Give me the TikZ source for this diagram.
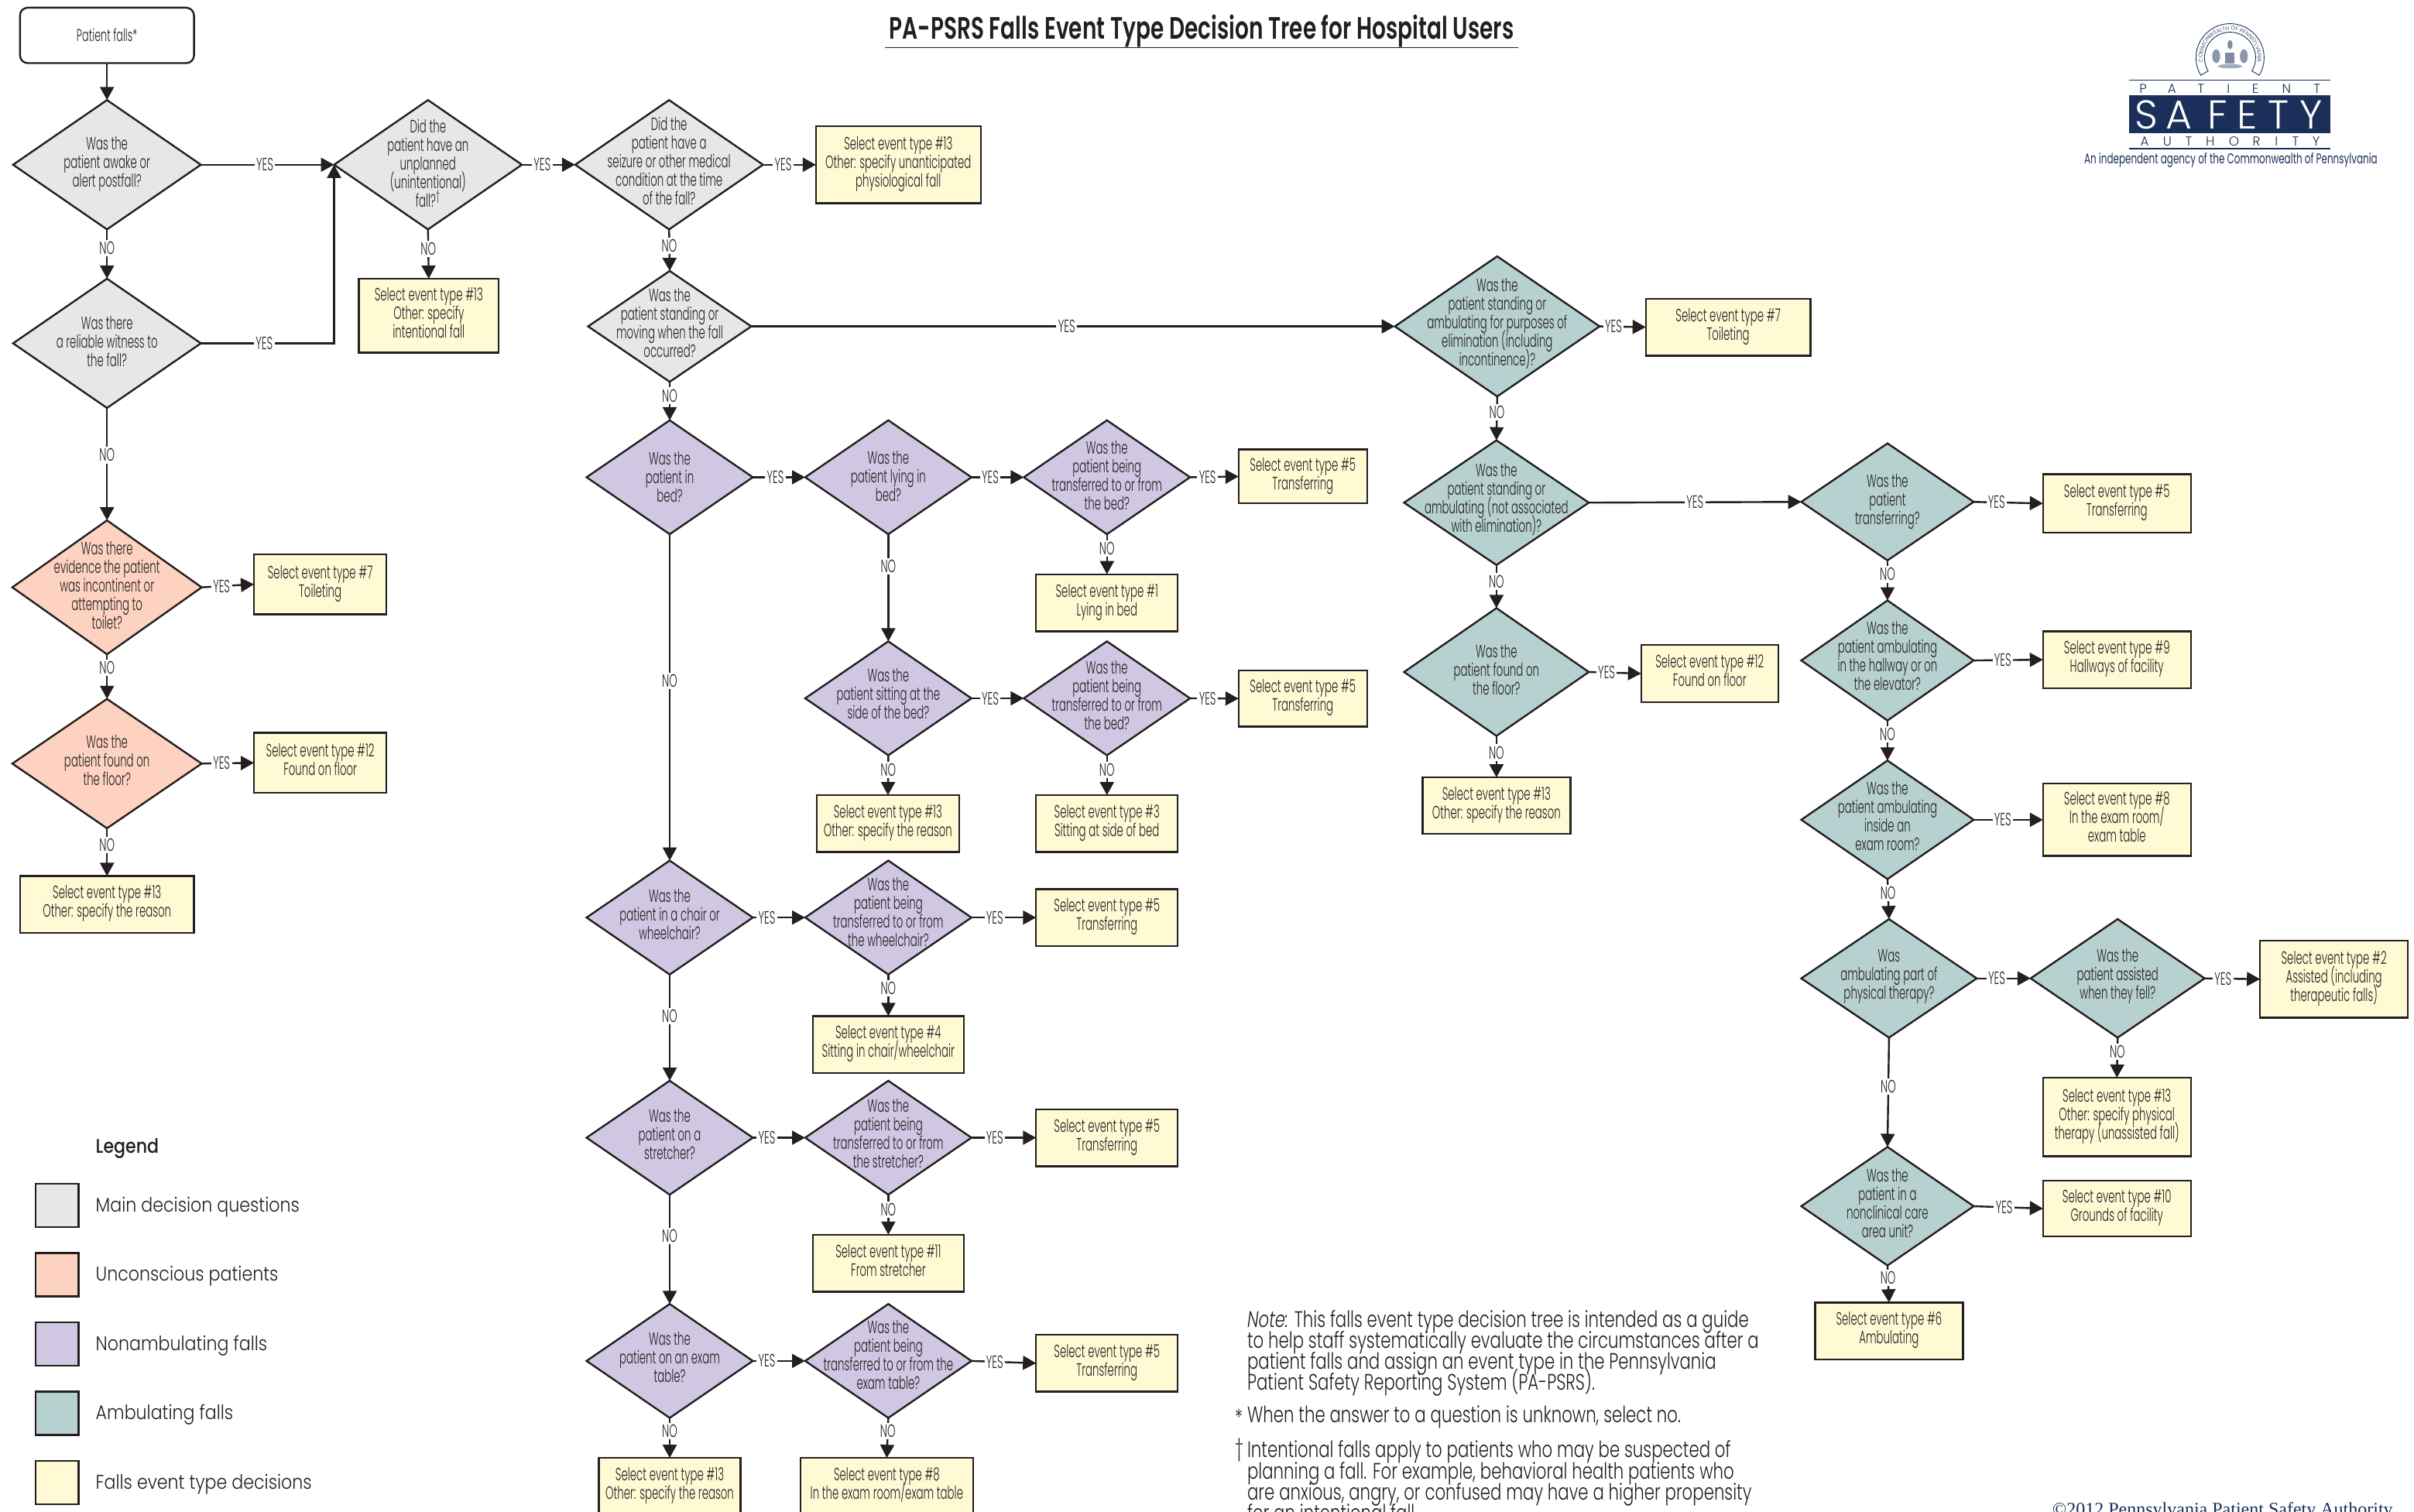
\documentclass[tikz,border=0pt]{standalone}
\usepackage{fontspec}
\usetikzlibrary{shapes.geometric,arrows.meta,decorations.text}
\setmainfont{Poppins}[UprightFont=* Light,BoldFont=* SemiBold,ItalicFont=* Light Italic,FakeStretch=.58]
\newfontfamily\legfont{Poppins}[UprightFont=* Light,BoldFont=* Medium,FakeStretch=.865]
\newfontfamily\notefont{Poppins}[UprightFont=* Light,ItalicFont=* Light Italic,FakeStretch=.734]
\newfontfamily\titlefont{Poppins}[UprightFont=* SemiBold,FakeStretch=.7]
\newfontfamily\tagfont{Poppins}[UprightFont=*,FakeStretch=.65]
\newfontfamily\logofont{Poppins}[UprightFont=* Light]
\newfontfamily\seriffont{Liberation Serif}
\definecolor{ink}{HTML}{231F20}
\definecolor{cgray}{HTML}{E6E7E8}
\definecolor{cpeach}{HTML}{FDD2C0}
\definecolor{clilac}{HTML}{D0C8E2}
\definecolor{cteal}{HTML}{B7D1D1}
\definecolor{cyell}{HTML}{FFFAD4}
\definecolor{navy}{HTML}{1A2F5A}
\def\un{0.99426pt}
\lineskiplimit=-30pt
\newcommand{\zbox}[2][0]{\makebox[0pt][c]{\raisebox{\dimexpr-3.9pt-#1pt\relax}{\smash{\parbox[c]{200pt}{\centering\lineskiplimit=-30pt\relax\baselineskip=12pt\relax\strut #2\strut}}}}}
\newcommand{\dia}[7][0]{\diaB{#1}{#2}{#3}{#4}{#5}{#6}{#7}}
\newcommand{\diaB}[8]{\node[dbase,fill=#3,minimum width=2*#6*\un,minimum height=2*#7*\un] (#2) at (#4,#5) {\zbox[#1]{#8}};}
\newcommand{\bx}[6]{\node[bbase,minimum width=(#4-#2)*\un,minimum height=(#5-#3)*\un] (#1) at ({(#2+#4)/2},{(#3+#5)/2}) {\zbox[1.8]{#6}};}
\tikzset{
 dbase/.style={diamond,draw=ink,line width=1.2pt,inner sep=0pt,outer sep=0pt,aspect=1.4},
 bbase/.style={rectangle,draw=ink,fill=cyell,line width=1.2pt,inner sep=0pt,outer sep=0pt,align=center},
 flow/.style={draw=ink,line width=1.2pt,-{Triangle[length=8.5pt,width=9pt]},color=ink},
 lab/.style={fill=white,inner sep=1.2pt,font=\fontsize{11.5}{12}\selectfont,text=ink},
 swatch/.style={rectangle,draw=ink,line width=1.2pt,minimum width=28*\un,minimum height=28*\un,inner sep=0pt,outer sep=0pt},
 legtxt/.style={anchor=west,inner sep=0pt,font=\legfont\fontsize{12.8}{15}\selectfont,text=ink},
 notetxt/.style={anchor=west,inner sep=0pt,align=left,font=\notefont\fontsize{14.5}{13.65}\selectfont,text=ink},
 lett/.style={inner sep=0pt,font=\logofont\fontsize{8.4}{10}\selectfont,text=navy},
 lettw/.style={inner sep=0pt,font=\logofont\fontsize{26}{28}\selectfont,text=white},
}
\begin{document}
\begin{tikzpicture}[x=\un,y=-\un,every node/.append style={text=ink},font=\fontsize{11.5}{12}\selectfont]
\useasboundingbox (0,0) rectangle (1568,982);
% title
\node[inner sep=0pt,font=\titlefont\fontsize{20}{22}\selectfont] (title) at (780.5,20) {PA-PSRS Falls Event Type Decision Tree for Hospital Users};
\coordinate (ula) at (575,31); \coordinate (ulb) at (986,31);
\draw[ink,line width=.6pt] (ula) -- (ulb);
% start
\node[rectangle,rounded corners=5pt,draw=ink,line width=1.2pt,inner sep=0pt,outer sep=0pt,minimum width=113*\un,minimum height=36*\un] (start) at (69.5,23) {\fontsize{11}{12}\selectfont Patient falls*};
% main column diamonds
\dia[2]{d1}{cgray}{69.5}{107}{61}{42}{Was the\\patient awake or\\alert postfall?}
\dia[3]{d2}{cgray}{69.5}{223}{61}{42}{Was there\\a reliable witness to\\the fall?}
\dia[3.5]{d3}{cgray}{278}{107}{61}{42}{Did the\\patient have an\\unplanned\\(unintentional)\\fall?\textsuperscript{†}}
\dia[1]{d4}{cgray}{434.6}{107}{61}{42}{Did the\\patient have a\\seizure or other medical\\condition at the time\\of the fall?}
\dia[1.5]{d5}{cgray}{435}{212}{53}{36}{Was the\\patient standing or\\moving when the fall\\occurred?}
\dia[3.5]{d17}{cpeach}{69.5}{381.5}{61.5}{43.5}{Was there\\evidence the patient\\was incontinent or\\attempting to\\toilet?}
\dia[1.5]{d18}{cpeach}{69.5}{496}{61.5}{42}{Was the\\patient found on\\the floor?}
% nonambulating
\dia[5]{d6}{clilac}{435}{310}{54}{37}{Was the\\patient in\\bed?}
\dia[4]{d7}{clilac}{577}{310}{54}{37}{Was the\\patient lying in\\bed?}
\dia[3]{d8}{clilac}{719}{310}{54}{37}{Was the\\patient being\\transferred to or from\\the bed?}
\dia{d9}{clilac}{577}{453.6}{54}{37}{Was the\\patient sitting at the\\side of the bed?}
\dia[1.5]{d10}{clilac}{719}{453.6}{54}{37}{Was the\\patient being\\transferred to or from\\the bed?}
\dia[2]{d11}{clilac}{435}{596}{54}{37}{Was the\\patient in a chair or\\wheelchair?}
\dia[-1]{d12}{clilac}{577}{596}{54}{37}{Was the\\patient being\\transferred to or from\\the wheelchair?}
\dia[1]{d13}{clilac}{435}{739}{54}{37}{Was the\\patient on a\\stretcher?}
\dia{d14}{clilac}{577}{739}{54}{37}{Was the\\patient being\\transferred to or from\\the stretcher?}
\dia[1]{d15}{clilac}{435}{884}{54}{37}{Was the\\patient on an exam\\table?}
\dia[-2]{d16}{clilac}{577}{884}{54}{37}{Was the\\patient being\\transferred to or from the\\exam table?}
% ambulating
\dia{d19}{cteal}{972.5}{212}{66.5}{45.5}{Was the\\patient standing or\\ambulating for purposes of\\elimination (including\\incontinence)?}
\dia[-1]{d20}{cteal}{972}{326.5}{60}{40.5}{Was the\\patient standing or\\ambulating (not associated\\with elimination)?}
\dia[3]{d21}{cteal}{972}{436.5}{60}{41.5}{Was the\\patient found on\\the floor?}
\dia[2]{d22}{cteal}{1226}{326}{56}{38}{Was the\\patient\\transferring?}
\dia{d23}{cteal}{1226}{429}{56}{39}{Was the\\patient ambulating\\in the hallway or on\\the elevator?}
\dia[1]{d24}{cteal}{1226}{532.5}{56}{38.5}{Was the\\patient ambulating\\inside an\\exam room?}
\dia{d25}{cteal}{1227}{635.5}{57}{38.5}{Was\\ambulating part of\\physical therapy?}
\dia{d26}{cteal}{1375.5}{635.5}{56.5}{38.5}{Was the\\patient assisted\\when they fell?}
\dia[2]{d27}{cteal}{1226}{783.5}{56}{38.5}{Was the\\patient in a\\nonclinical care\\area unit?}
% boxes
\bx{b13a}{530}{82}{637}{132}{Select event type \#13\\Other: specify unanticipated\\physiological fall}
\bx{b13b}{233}{181}{324}{229}{Select event type \#13\\Other: specify\\intentional fall}
\bx{b7a}{165}{360}{251}{399}{Select event type \#7\\Toileting}
\bx{b12a}{165}{476}{251}{515}{Select event type \#12\\Found on floor}
\bx{b13c}{13}{569}{126}{606}{Select event type \#13\\Other: specify the reason}
\bx{b5a}{804.5}{292}{888}{327}{Select event type \#5\\Transferring}
\bx{b1}{673}{373}{765}{410}{Select event type \#1\\Lying in bed}
\bx{b5b}{804.5}{435.5}{888}{472}{Select event type \#5\\Transferring}
\bx{b13d}{530.5}{516.5}{623}{553.5}{Select event type \#13\\Other: specify the reason}
\bx{b3}{673}{516.5}{765}{553.5}{Select event type \#3\\Sitting at side of bed}
\bx{b5c}{673}{577.5}{765}{614.5}{Select event type \#5\\Transferring}
\bx{b4}{528}{660}{626}{697}{Select event type \#4\\Sitting in chair/wheelchair}
\bx{b5d}{673}{720.5}{765}{757.5}{Select event type \#5\\Transferring}
\bx{b11}{528}{802}{626}{839}{Select event type \#11\\From stretcher}
\bx{b5e}{673}{867}{765}{904}{Select event type \#5\\Transferring}
\bx{b13e}{389}{947}{481}{984}{Select event type \#13\\Other: specify the reason}
\bx{b8a}{520}{947}{632}{984}{Select event type \#8\\In the exam room/exam table}
\bx{b7b}{1069}{194}{1176}{231}{Select event type \#7\\Toileting}
\bx{b12b}{1066}{419}{1155}{456}{Select event type \#12\\Found on floor}
\bx{b13f}{924}{505}{1020}{541.5}{Select event type \#13\\Other: specify the reason}
\bx{b5f}{1327}{308}{1423}{346}{Select event type \#5\\Transferring}
\bx{b9}{1327}{410}{1423}{447}{Select event type \#9\\Hallways of facility}
\bx{b8b}{1327}{509}{1423}{556}{Select event type \#8\\In the exam room/\\exam table}
\bx{b2}{1468}{611}{1564}{661}{Select event type \#2\\Assisted (including\\therapeutic falls)}
\bx{b13g}{1327}{700}{1423}{751}{Select event type \#13\\Other: specify physical\\therapy (unassisted fall)}
\bx{b10}{1327}{767}{1423}{803}{Select event type \#10\\Grounds of facility}
\bx{b6}{1179}{846}{1275}{883}{Select event type \#6\\Ambulating}
% connectors
\draw[flow] (start.south) -- (d1.north);
\draw[flow] (d1.east) -- node[lab,pos=.48]{YES} (d3.west);
\draw[flow] (d1.south) -- node[lab,pos=.38]{NO} (d2.north);
\draw[flow] (d2.east) -| node[lab,pos=.238]{YES} (d3.west);
\draw[flow] (d2.south) -- node[lab,pos=.42]{NO} (d17.north);
\draw[flow] (d17.east) -- node[lab,pos=.38]{YES} (b7a.west);
\draw[flow] (d17.south) -- node[lab,pos=.3]{NO} (d18.north);
\draw[flow] (d18.east) -- node[lab,pos=.38]{YES} (b12a.west);
\draw[flow] (d18.south) -- node[lab,pos=.35]{NO} (b13c.north);
\draw[flow] (d3.east) -- node[lab,pos=.38]{YES} (d4.west);
\draw[flow] (d3.south) -- node[lab,pos=.4]{NO} (b13b.north);
\draw[flow] (d4.east) -- node[lab,pos=.38]{YES} (b13a.west);
\draw[flow] (d4.south) -- node[lab,pos=.4]{NO} (d5.north);
\draw[flow] (d5.east) -- node[lab,pos=.49]{YES} (d19.west);
\draw[flow] (d5.south) -- node[lab,pos=.36]{NO} (d6.north);
\draw[flow] (d6.east) -- node[lab,pos=.43]{YES} (d7.west);
\draw[flow] (d6.south) -- node[lab,pos=.45]{NO} (d11.north);
\draw[flow] (d7.east) -- node[lab,pos=.36]{YES} (d8.west);
\draw[flow] (d7.south) -- node[lab,pos=.3]{NO} (d9.north);
\draw[flow] (d8.east) -- node[lab,pos=.36]{YES} (b5a.west);
\draw[flow] (d8.south) -- node[lab,pos=.35]{NO} (b1.north);
\draw[flow] (d9.east) -- node[lab,pos=.36]{YES} (d10.west);
\draw[flow] (d9.south) -- node[lab,pos=.36]{NO} (b13d.north);
\draw[flow] (d10.east) -- node[lab,pos=.36]{YES} (b5b.west);
\draw[flow] (d10.south) -- node[lab,pos=.36]{NO} (b3.north);
\draw[flow] (d11.east) -- node[lab,pos=.27]{YES} (d12.west);
\draw[flow] (d11.south) -- node[lab,pos=.39]{NO} (d13.north);
\draw[flow] (d12.east) -- node[lab,pos=.36]{YES} (b5c.west);
\draw[flow] (d12.south) -- node[lab,pos=.33]{NO} (b4.north);
\draw[flow] (d13.east) -- node[lab,pos=.27]{YES} (d14.west);
\draw[flow] (d13.south) -- node[lab,pos=.38]{NO} (d15.north);
\draw[flow] (d14.east) -- node[lab,pos=.36]{YES} (b5d.west);
\draw[flow] (d14.south) -- node[lab,pos=.38]{NO} (b11.north);
\draw[flow] (d15.east) -- node[lab,pos=.27]{YES} (d16.west);
\draw[flow] (d15.south) -- node[lab,pos=.33]{NO} (b13e.north);
\draw[flow] (d16.east) -- node[lab,pos=.36]{YES} (b5e.west);
\draw[flow] (d16.south) -- node[lab,pos=.33]{NO} (b8a.north);
\draw[flow] (d19.east) -- node[lab,pos=.3]{YES} (b7b.west);
\draw[flow] (d19.south) -- node[lab,pos=.36]{NO} (d20.north);
\draw[flow] (d20.east) -- node[lab,pos=.5]{YES} (d22.west);
\draw[flow] (d20.south) -- node[lab,pos=.38]{NO} (d21.north);
\draw[flow] (d21.east) -- node[lab,pos=.34]{YES} (b12b.west);
\draw[flow] (d21.south) -- node[lab,pos=.4]{NO} (b13f.north);
\draw[flow] (d22.east) -- node[lab,pos=.33]{YES} (b5f.west);
\draw[flow] (d22.south) -- node[lab,pos=.35]{NO} (d23.north);
\draw[flow] (d23.east) -- node[lab,pos=.42]{YES} (b9.west);
\draw[flow] (d23.south) -- node[lab,pos=.35]{NO} (d24.north);
\draw[flow] (d24.east) -- node[lab,pos=.42]{YES} (b8b.west);
\draw[flow] (d24.south) -- node[lab,pos=.35]{NO} (d25.north);
\draw[flow] (d25.east) -- node[lab,pos=.37]{YES} (d26.west);
\draw[flow] (d25.south) -- node[lab,pos=.45]{NO} (d27.north);
\draw[flow] (d26.east) -- node[lab,pos=.33]{YES} (b2.west);
\draw[flow] (d26.south) -- node[lab,pos=.35]{NO} (b13g.north);
\draw[flow] (d27.east) -- node[lab,pos=.44]{YES} (b10.west);
\draw[flow] (d27.south) -- node[lab,pos=.33]{NO} (b6.north);
% legend
\node[inner sep=0pt,anchor=west,font=\legfont\bfseries\fontsize{12.8}{15}\selectfont] (legend) at (62,746) {Legend};
\node[swatch,fill=cgray] (s1) at (37,783) {};
\node[swatch,fill=cpeach] (s2) at (37,828) {};
\node[swatch,fill=clilac] (s3) at (37,873) {};
\node[swatch,fill=cteal] (s4) at (37,918) {};
\node[swatch,fill=cyell] (s5) at (37,963) {};
\node[legtxt] (t1) at (62,784) {Main decision questions};
\node[legtxt] (t2) at (62,829) {Unconscious patients};
\node[legtxt] (t3) at (62,874) {Nonambulating falls};
\node[legtxt] (t4) at (62,919) {Ambulating falls};
\node[legtxt] (t5) at (62,964) {Falls event type decisions};
% notes
\node[notetxt] (n1) at (810,879) {\textit{Note:} This falls event type decision tree is intended as a guide\\to help staff systematically evaluate the circumstances after a\\patient falls and assign an event type in the Pennsylvania\\Patient Safety Reporting System (PA-PSRS).};
\node[notetxt] (n2m) at (802,920.5) {*};
\node[notetxt] (n2) at (810,920.5) {When the answer to a question is unknown, select no.};
\node[notetxt] (n3m) at (802,942) {†};
\node[notetxt] (n3) at (810,962) {Intentional falls apply to patients who may be suspected of\\planning a fall. For example, behavioral health patients who\\are anxious, angry, or confused may have a higher propensity\\for an intentional fall.};
\node[inner sep=0pt,anchor=west,font=\seriffont\fontsize{12}{14}\selectfont,text=navy] (copy) at (1333,981.5) {©2012 Pennsylvania Patient Safety Authority};
% logo
\coordinate (sc) at (1448.5,37.5);
\draw[navy,line width=.45pt] ([shift={(211:22pt)}]sc) arc[start angle=211,end angle=-31,radius=22pt] -- ([shift={(-31:16.5pt)}]sc) arc[start angle=-31,end angle=211,radius=16.5pt] -- cycle;
\path[decorate,decoration={text along path,text align=center,text={|\logofont\fontsize{3.6}{4}\selectfont\color{navy}|COMMONWEALTH OF PENNSYLVANIA}}] ([shift={(203:17.8pt)}]sc) arc[start angle=203,end angle=-23,radius=17.8pt];
\fill[navy!55] (1445.5,34) rectangle (1451.5,41);
\fill[navy!55] (1448.5,29) ellipse (1.6 and 3);
\fill[navy!50] (1439.5,36.5) ellipse (2.6 and 4.5);
\fill[navy!50] (1457.5,36.5) ellipse (2.6 and 4.5);
\fill[navy!40] (1448.5,43) ellipse (8 and 1.4);
\coordinate (la) at (1383,52); \coordinate (lb) at (1513.7,52);
\coordinate (lc) at (1383,96.5); \coordinate (ld) at (1513.7,96.5);
\draw[navy,line width=.7pt] (la) -- (lb);
\draw[navy,line width=.7pt] (lc) -- (ld);
\node[rectangle,fill=navy,inner sep=0pt,outer sep=0pt,minimum width=130.7*\un,minimum height=24.5*\un] (bar) at (1448.35,74.25) {};
\foreach \n/\l/\x in {a/P/1392,b/A/1410.8,c/T/1429.6,d/I/1447.5,e/E/1465,f/N/1485.2,g/T/1505}
  \node[lett] (p\n) at (\x,57.5) {\l};
\foreach \n/\l/\x in {a/S/1394.4,b/A/1415.4,c/F/1440.5,d/E/1459.4,e/T/1480,f/Y/1501.4}
  \node[lettw] (s\n) at (\x,74.5) {\l};
\foreach \n/\l/\x in {a/A/1393,b/U/1407.8,c/T/1421.7,d/H/1435.6,e/O/1451,f/R/1465.7,g/I/1478.6,h/T/1491,i/Y/1504.4}
  \node[lett] (u\n) at (\x,92) {\l};
\node[inner sep=0pt,font=\tagfont\fontsize{9.2}{10}\selectfont,text=navy] (tag) at (1449,104) {An independent agency of the Commonwealth of Pennsylvania};
\end{tikzpicture}
\end{document}
